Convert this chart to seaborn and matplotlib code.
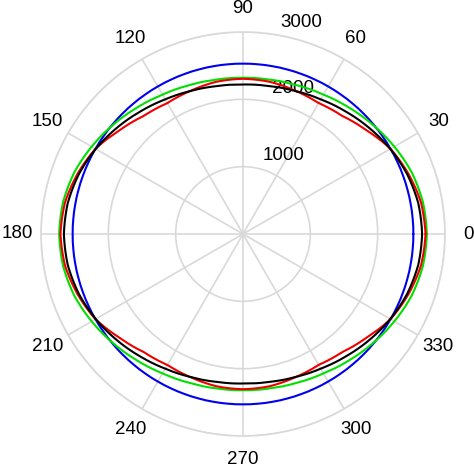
import numpy as np
import pandas as pd
import matplotlib
matplotlib.use("Agg")
import matplotlib.pyplot as plt
import matplotlib.transforms as mtransforms
import seaborn as sns

# angles in degrees (0..360, step 10)
angles_deg = [0, 10, 20, 30, 40, 50, 60, 70, 80, 90,
              100, 110, 120, 130, 140, 150, 160, 170, 180,
              190, 200, 210, 220, 230, 240, 250, 260, 270,
              280, 290, 300, 310, 320, 330, 340, 350, 360]

blue_r = [2530, 2530, 2530, 2530, 2530, 2530, 2530, 2530, 2530, 2530,
          2530, 2530, 2530, 2530, 2530, 2530, 2530, 2530, 2530,
          2530, 2530, 2530, 2530, 2530, 2530, 2530, 2530, 2530,
          2530, 2530, 2530, 2530, 2530, 2530, 2530, 2530, 2530]

black_r = [2660, 2643, 2595, 2526, 2449, 2374, 2309, 2261, 2230, 2220,
           2230, 2261, 2309, 2374, 2449, 2526, 2595, 2643, 2660,
           2643, 2595, 2526, 2449, 2374, 2309, 2261, 2230, 2220,
           2230, 2261, 2309, 2374, 2449, 2526, 2595, 2643, 2660]

green_r = [2730, 2714, 2668, 2595, 2520, 2450, 2390, 2350, 2327, 2320,
           2327, 2350, 2390, 2450, 2520, 2595, 2668, 2714, 2730,
           2714, 2668, 2595, 2520, 2450, 2390, 2350, 2327, 2320,
           2327, 2350, 2390, 2450, 2520, 2595, 2668, 2714, 2730]

red_r = [2711, 2685, 2615, 2530, 2395, 2290, 2245, 2265, 2295, 2305,
         2295, 2265, 2245, 2290, 2395, 2530, 2615, 2685, 2711,
         2685, 2615, 2530, 2395, 2290, 2245, 2265, 2295, 2305,
         2295, 2265, 2245, 2290, 2395, 2530, 2615, 2685, 2711]

series_names = ["blue", "green", "red", "black"]
series_colors = ["#0000ee", "#00e000", "#ee0000", "#000000"]

r_ticks = [1000, 2000, 3000]
theta_ticks = [0, 30, 60, 90, 120, 150, 180, 210, 240, 270, 300, 330]

sns.set_style("white")
plt.rcParams['font.family'] = ['Liberation Sans', 'DejaVu Sans']

fig = plt.figure(figsize=(4.74, 4.73), dpi=100)
ax = fig.add_axes([41 / 474, 37 / 473, 404 / 474, 404 / 473], projection="polar")

theta = np.deg2rad(angles_deg)
data = {"blue": blue_r, "green": green_r, "red": red_r, "black": black_r}
for name, col in zip(series_names, series_colors):
    df = pd.DataFrame({"theta": theta, "r": data[name]})
    sns.lineplot(data=df, x="theta", y="r", sort=False, estimator=None,
                 color=col, linewidth=1.5, ax=ax)

# draw segments following the polar geometry (linear in theta and r)
for line in ax.lines:
    line.get_path()._interpolation_steps = 20

ax.set_ylim(0, 3000)
ax.set_yticks(r_ticks)
ax.set_yticklabels([str(v) for v in r_ticks], fontsize=13.5, color="black")
ax.set_xticks(np.deg2rad(theta_ticks))
ax.set_xticklabels([str(v) for v in theta_ticks], fontsize=13.5, color="black")
ax.set_rlabel_position(82.5)
ax.grid(True, color="#d9d9d9", linewidth=1.2)
ax.spines["polar"].set_color("#d9d9d9")
ax.spines["polar"].set_linewidth(1.2)
ax.tick_params(axis="x", pad=6.5)
ax.set_xlabel("")
ax.set_ylabel("")

# shift radial labels slightly (right and up) as in the reference
shift = mtransforms.ScaledTranslation(11 / 100, 3 / 100, fig.dpi_scale_trans)
for lab in ax.get_yticklabels():
    lab.set_transform(lab.get_transform() + shift)

fig.savefig("out.png", dpi=100)
